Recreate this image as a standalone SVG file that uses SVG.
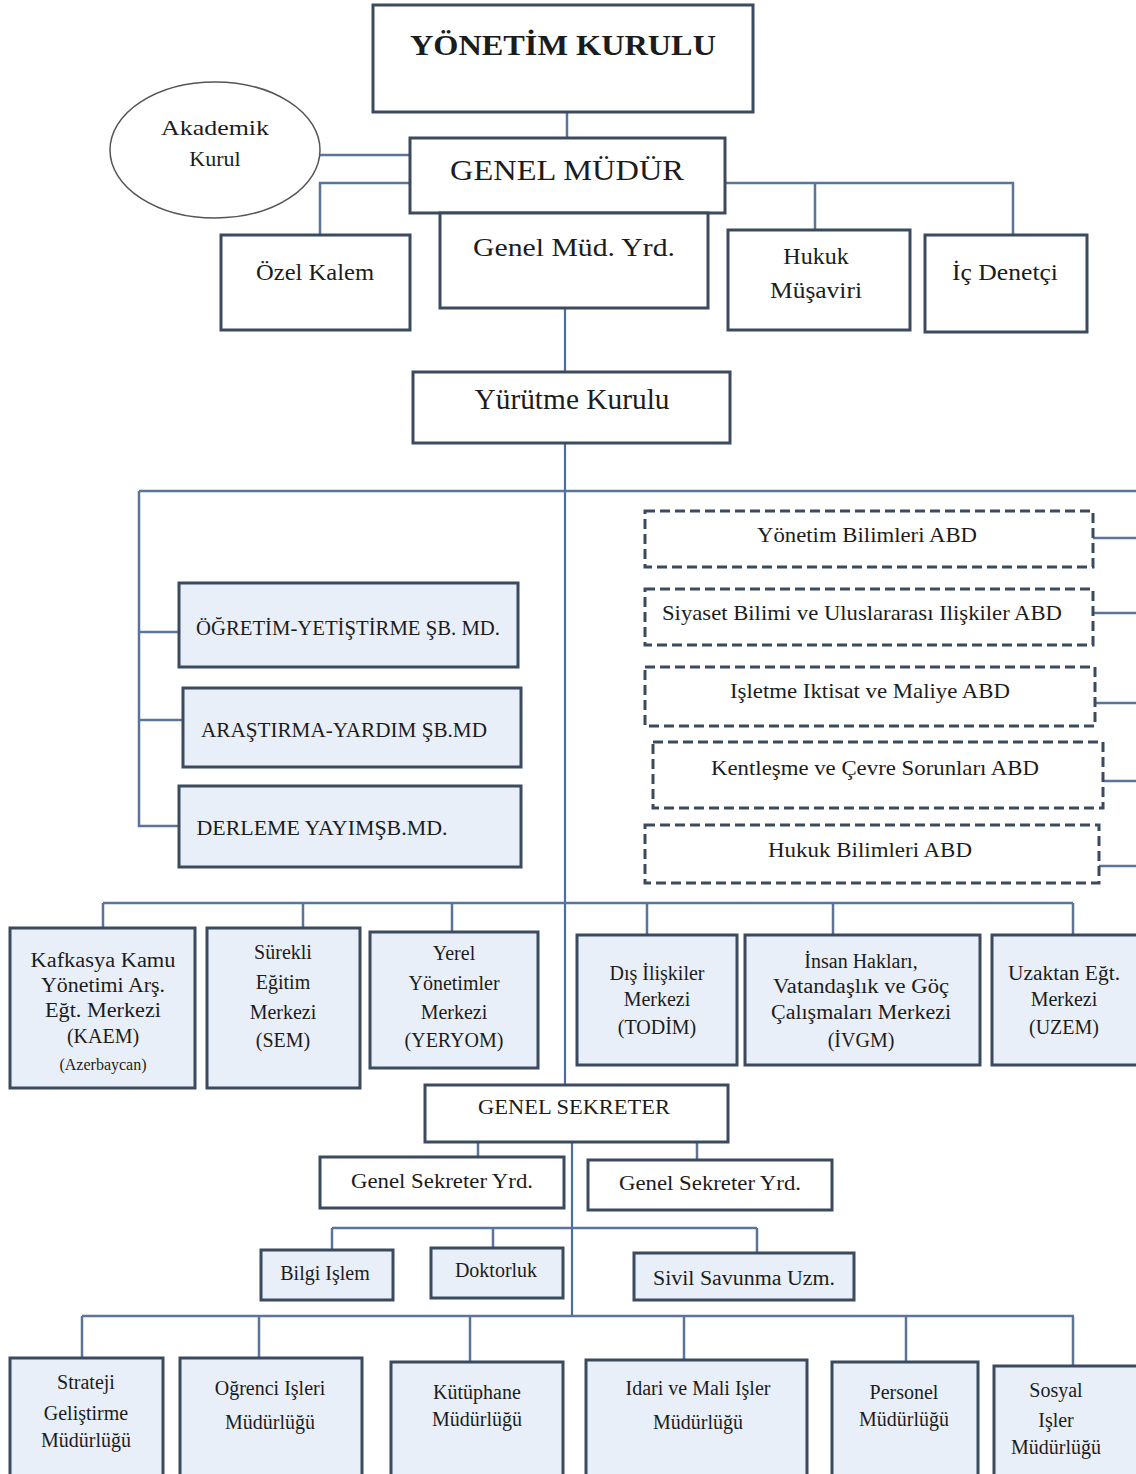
<svg xmlns="http://www.w3.org/2000/svg" width="1136" height="1474" viewBox="0 0 1136 1474">
<style>
.b{fill:#ffffff;stroke:#3b4a5f;stroke-width:3}
.f{fill:#e9eff8;stroke:#3b4a5f;stroke-width:3}
.d{fill:#ffffff;stroke:#3b4a5f;stroke-width:3;stroke-dasharray:10 5}
.e{fill:#ffffff;stroke:#555;stroke-width:1.5}
.c{fill:none;stroke:#5b7598;stroke-width:2.5}
.v{fill:none;stroke:#4a6fa5;stroke-width:2.2}
text{font-family:"Liberation Serif","Times New Roman",serif;fill:#1c1c1c;text-anchor:middle}
.t30{font-size:30px}
.t26{font-size:26px}
.t24{font-size:24px}
.t22{font-size:22px}
.t20{font-size:20px}
.t16{font-size:16px}
</style>
<rect width="1136" height="1474" fill="#ffffff"/>
<g id="connectors">
<path class="c" d="M567 112V138"/>
<path class="c" d="M320 155H410"/>
<path class="c" d="M410 183H320V235"/>
<path class="c" d="M725 183H1013V235M815 183V230"/>
<path class="v" d="M565 308V372"/>
<path class="v" d="M565 443V1085"/>
<path class="c" d="M139 491H1136"/>
<path class="c" d="M139 491V826H179M139 632H179M139 720H183"/>
<path class="c" d="M1093 538H1136M1093 613H1136M1095 703H1136M1103 781H1136M1099 866H1136"/>
<path class="c" d="M103 903H1073M103 903V928M303 903V928M452 903V932M647 903V935M833 903V935M1073 903V935"/>
<path class="c" d="M478 1142V1157M697 1142V1160"/>
<path class="v" d="M572 1142V1316"/>
<path class="c" d="M332 1228H757M332 1228V1250M493 1228V1248M757 1228V1253"/>
<path class="c" d="M82 1316H1074M82 1316V1358M259 1316V1358M470 1316V1362M684 1316V1360M906 1316V1362M1073 1316V1366"/>
</g>
<g id="yonetim-kurulu">
<rect class="b" x="373" y="5" width="380" height="107"/>
<text class="t30" x="563" y="55" font-weight="bold" textLength="306" lengthAdjust="spacingAndGlyphs">YÖNETİM KURULU</text>
</g>
<g id="akademik-kurul">
<ellipse class="e" cx="215" cy="150" rx="105" ry="68"/>
<text class="t22" x="215" y="135" textLength="108" lengthAdjust="spacingAndGlyphs">Akademik</text>
<text class="t22" x="215" y="166">Kurul</text>
</g>
<g id="genel-mudur">
<rect class="b" x="410" y="138" width="315" height="75"/>
<text class="t30" x="567" y="180" textLength="234" lengthAdjust="spacingAndGlyphs">GENEL MÜDÜR</text>
</g>
<g id="ozel-kalem">
<rect class="b" x="221" y="235" width="189" height="95"/>
<text class="t24" x="315" y="280" textLength="118" lengthAdjust="spacingAndGlyphs">Özel Kalem</text>
</g>
<g id="genel-mud-yrd">
<rect class="b" x="440" y="213" width="268" height="95"/>
<text class="t26" x="574" y="256" textLength="202" lengthAdjust="spacingAndGlyphs">Genel Müd. Yrd.</text>
</g>
<g id="hukuk-musaviri">
<rect class="b" x="728" y="230" width="182" height="100"/>
<text class="t24" x="816" y="264">Hukuk</text>
<text class="t24" x="816" y="298" textLength="92" lengthAdjust="spacingAndGlyphs">Müşaviri</text>
</g>
<g id="ic-denetci">
<rect class="b" x="925" y="235" width="162" height="97"/>
<text class="t24" x="1005" y="280" textLength="106" lengthAdjust="spacingAndGlyphs">İç Denetçi</text>
</g>
<g id="yurutme-kurulu">
<rect class="b" x="413" y="372" width="317" height="71"/>
<text class="t30" x="572" y="409" textLength="195" lengthAdjust="spacingAndGlyphs">Yürütme Kurulu</text>
</g>
<g id="ogretim">
<rect class="f" x="179" y="583" width="339" height="84"/>
<text class="t22" x="348" y="635" textLength="304" lengthAdjust="spacingAndGlyphs">ÖĞRETİM-YETİŞTİRME ŞB. MD.</text>
</g>
<g id="arastirma">
<rect class="f" x="183" y="688" width="338" height="79"/>
<text class="t22" x="344" y="737" textLength="286" lengthAdjust="spacingAndGlyphs">ARAŞTIRMA-YARDIM ŞB.MD</text>
</g>
<g id="derleme">
<rect class="f" x="179" y="786" width="342" height="81"/>
<text class="t22" x="322" y="835" textLength="251" lengthAdjust="spacingAndGlyphs">DERLEME YAYIMŞB.MD.</text>
</g>
<g id="abd-yonetim">
<rect class="d" x="645" y="511" width="448" height="56"/>
<text class="t22" x="867" y="542" textLength="220" lengthAdjust="spacingAndGlyphs">Yönetim Bilimleri  ABD</text>
</g>
<g id="abd-siyaset">
<rect class="d" x="645" y="589" width="448" height="56"/>
<text class="t22" x="862" y="620" textLength="400" lengthAdjust="spacingAndGlyphs">Siyaset Bilimi ve Uluslararası Ilişkiler ABD</text>
</g>
<g id="abd-isletme">
<rect class="d" x="645" y="667" width="450" height="59"/>
<text class="t22" x="870" y="698" textLength="280" lengthAdjust="spacingAndGlyphs">Işletme Iktisat ve Maliye ABD</text>
</g>
<g id="abd-kentlesme">
<rect class="d" x="653" y="742" width="450" height="66"/>
<text class="t22" x="875" y="775" textLength="328" lengthAdjust="spacingAndGlyphs">Kentleşme ve Çevre Sorunları ABD</text>
</g>
<g id="abd-hukuk">
<rect class="d" x="645" y="825" width="454" height="58"/>
<text class="t22" x="870" y="857" textLength="204" lengthAdjust="spacingAndGlyphs">Hukuk Bilimleri ABD</text>
</g>
<g id="kaem">
<rect class="f" x="10" y="928" width="185" height="160"/>
<text class="t20" x="103" y="967" textLength="145" lengthAdjust="spacingAndGlyphs">Kafkasya Kamu</text>
<text class="t20" x="103" y="992" textLength="124" lengthAdjust="spacingAndGlyphs">Yönetimi Arş.</text>
<text class="t20" x="103" y="1017" textLength="116" lengthAdjust="spacingAndGlyphs">Eğt. Merkezi</text>
<text class="t20" x="103" y="1043">(KAEM)</text>
<text class="t16" x="103" y="1070">(Azerbaycan)</text>
</g>
<g id="sem">
<rect class="f" x="207" y="928" width="153" height="160"/>
<text class="t20" x="283" y="959">Sürekli</text>
<text class="t20" x="283" y="989">Eğitim</text>
<text class="t20" x="283" y="1019">Merkezi</text>
<text class="t20" x="283" y="1047">(SEM)</text>
</g>
<g id="yeryom">
<rect class="f" x="370" y="932" width="168" height="136"/>
<text class="t20" x="454" y="960">Yerel</text>
<text class="t20" x="454" y="990">Yönetimler</text>
<text class="t20" x="454" y="1019">Merkezi</text>
<text class="t20" x="454" y="1047">(YERYOM)</text>
</g>
<g id="todim">
<rect class="f" x="577" y="935" width="160" height="130"/>
<text class="t20" x="657" y="980">Dış İlişkiler</text>
<text class="t20" x="657" y="1006">Merkezi</text>
<text class="t20" x="657" y="1034">(TODİM)</text>
</g>
<g id="ivgm">
<rect class="f" x="745" y="935" width="235" height="130"/>
<text class="t20" x="861" y="968">İnsan Hakları,</text>
<text class="t20" x="861" y="993" textLength="176" lengthAdjust="spacingAndGlyphs">Vatandaşlık ve Göç</text>
<text class="t20" x="861" y="1019" textLength="180" lengthAdjust="spacingAndGlyphs">Çalışmaları Merkezi</text>
<text class="t20" x="861" y="1047">(İVGM)</text>
</g>
<g id="uzem">
<rect class="f" x="992" y="935" width="150" height="130"/>
<text class="t20" x="1064" y="980" textLength="112" lengthAdjust="spacingAndGlyphs">Uzaktan Eğt.</text>
<text class="t20" x="1064" y="1006">Merkezi</text>
<text class="t20" x="1064" y="1034">(UZEM)</text>
</g>
<g id="genel-sekreter">
<rect class="b" x="425" y="1085" width="303" height="57"/>
<text class="t22" x="574" y="1114" textLength="192" lengthAdjust="spacingAndGlyphs">GENEL SEKRETER</text>
</g>
<g id="gs-yrd-1">
<rect class="b" x="320" y="1157" width="244" height="51"/>
<text class="t22" x="442" y="1188" textLength="182" lengthAdjust="spacingAndGlyphs">Genel Sekreter Yrd.</text>
</g>
<g id="gs-yrd-2">
<rect class="b" x="588" y="1160" width="244" height="50"/>
<text class="t22" x="710" y="1190" textLength="182" lengthAdjust="spacingAndGlyphs">Genel Sekreter Yrd.</text>
</g>
<g id="bilgi-islem">
<rect class="f" x="261" y="1250" width="132" height="50"/>
<text class="t20" x="325" y="1280">Bilgi Işlem</text>
</g>
<g id="doktorluk">
<rect class="f" x="431" y="1248" width="132" height="50"/>
<text class="t20" x="496" y="1277">Doktorluk</text>
</g>
<g id="sivil-savunma">
<rect class="f" x="634" y="1253" width="220" height="47"/>
<text class="t20" x="744" y="1285" textLength="182" lengthAdjust="spacingAndGlyphs">Sivil Savunma Uzm.</text>
</g>
<g id="strateji">
<rect class="f" x="10" y="1358" width="153" height="125"/>
<text class="t20" x="86" y="1389">Strateji</text>
<text class="t20" x="86" y="1420">Geliştirme</text>
<text class="t20" x="86" y="1447">Müdürlüğü</text>
</g>
<g id="ogrenci">
<rect class="f" x="180" y="1358" width="182" height="125"/>
<text class="t20" x="270" y="1395">Oğrenci Işleri</text>
<text class="t20" x="270" y="1429">Müdürlüğü</text>
</g>
<g id="kutuphane">
<rect class="f" x="391" y="1362" width="172" height="121"/>
<text class="t20" x="477" y="1399">Kütüphane</text>
<text class="t20" x="477" y="1426">Müdürlüğü</text>
</g>
<g id="idari">
<rect class="f" x="586" y="1360" width="221" height="123"/>
<text class="t20" x="698" y="1395">Idari ve Mali Işler</text>
<text class="t20" x="698" y="1429">Müdürlüğü</text>
</g>
<g id="personel">
<rect class="f" x="832" y="1362" width="146" height="121"/>
<text class="t20" x="904" y="1399">Personel</text>
<text class="t20" x="904" y="1426">Müdürlüğü</text>
</g>
<g id="sosyal">
<rect class="f" x="994" y="1366" width="148" height="117"/>
<text class="t20" x="1056" y="1397">Sosyal</text>
<text class="t20" x="1056" y="1427">Işler</text>
<text class="t20" x="1056" y="1454">Müdürlüğü</text>
</g>
</svg>
